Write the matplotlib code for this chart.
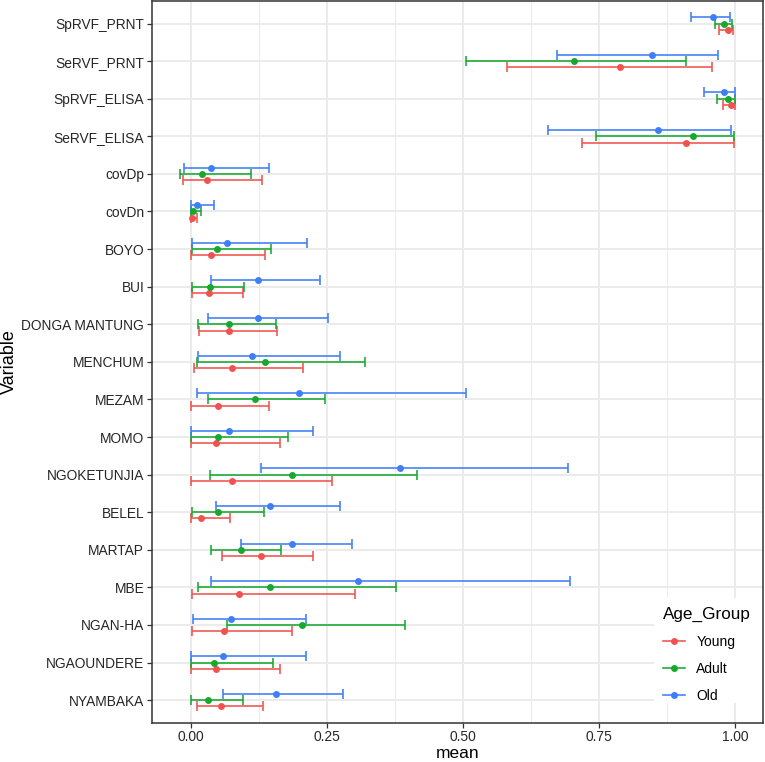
import matplotlib
matplotlib.use("Agg")
import matplotlib.pyplot as plt
from matplotlib.lines import Line2D
from matplotlib.patches import Rectangle
import numpy as np

plt.rcParams['font.family'] = ['Liberation Sans', 'DejaVu Sans']

variables = ["SpRVF_PRNT", "SeRVF_PRNT", "SpRVF_ELISA", "SeRVF_ELISA", "covDp", "covDn",
             "BOYO", "BUI", "DONGA MANTUNG", "MENCHUM", "MEZAM", "MOMO", "NGOKETUNJIA",
             "BELEL", "MARTAP", "MBE", "NGAN-HA", "NGAOUNDERE", "NYAMBAKA"]

groups = ["Young", "Adult", "Old"]
colors = {"Young": "#F0524F", "Adult": "#18A82E", "Old": "#3F7EF4"}

young_mean = [0.986, 0.788, 0.993, 0.909, 0.030, 0.003, 0.038, 0.033, 0.071, 0.075, 0.051, 0.046, 0.075,
              0.019, 0.129, 0.088, 0.061, 0.046, 0.056]
young_lo = [0.971, 0.580, 0.978, 0.718, -0.014, 0.000, 0.001, 0.002, 0.016, 0.007, 0.001, 0.001, 0.001,
            0.000, 0.058, 0.002, 0.002, 0.001, 0.011]
young_hi = [0.996, 0.957, 1.000, 0.998, 0.131, 0.012, 0.136, 0.097, 0.158, 0.206, 0.144, 0.164, 0.260,
            0.073, 0.225, 0.302, 0.187, 0.164, 0.133]

adult_mean = [0.980, 0.704, 0.987, 0.922, 0.020, 0.005, 0.048, 0.036, 0.071, 0.137, 0.119, 0.051, 0.187,
              0.051, 0.093, 0.145, 0.204, 0.042, 0.032]
adult_lo = [0.962, 0.506, 0.966, 0.745, -0.019, 0.000, 0.002, 0.002, 0.013, 0.011, 0.031, 0.001, 0.036,
            0.003, 0.037, 0.014, 0.066, 0.001, 0.001]
adult_hi = [0.994, 0.910, 0.999, 0.998, 0.111, 0.019, 0.148, 0.098, 0.156, 0.320, 0.247, 0.178, 0.416,
            0.135, 0.166, 0.377, 0.393, 0.152, 0.097]

old_mean = [0.959, 0.847, 0.980, 0.858, 0.038, 0.011, 0.067, 0.124, 0.123, 0.112, 0.199, 0.070, 0.385,
            0.145, 0.186, 0.308, 0.074, 0.060, 0.157]
old_lo = [0.919, 0.672, 0.943, 0.657, -0.012, 0.000, 0.002, 0.038, 0.031, 0.013, 0.011, 0.001, 0.130,
          0.046, 0.093, 0.038, 0.004, 0.001, 0.060]
old_hi = [0.990, 0.968, 0.999, 0.993, 0.143, 0.042, 0.213, 0.238, 0.253, 0.274, 0.506, 0.225, 0.693,
          0.274, 0.296, 0.696, 0.212, 0.212, 0.280]

data = {
    "Young": (young_mean, young_lo, young_hi),
    "Adult": (adult_mean, adult_lo, adult_hi),
    "Old": (old_mean, old_lo, old_hi),
}
offsets = {"Young": -1/6, "Adult": 0.0, "Old": 1/6}

W, H = 765, 762
PX0, PX1, PY0, PY1 = 152, 763, 1, 722.7
fig = plt.figure(figsize=(W/100, H/100), dpi=100)
ax = fig.add_axes([PX0/W, 1 - PY1/H, (PX1 - PX0)/W, (PY1 - PY0)/H])

n = len(variables)
ypos = np.arange(n)[::-1].astype(float)

for g in groups:
    m, lo, hi = (np.array(a) for a in data[g])
    y = ypos + offsets[g]
    ax.errorbar(m, y, xerr=[m - lo, hi - m], fmt='none', ecolor=colors[g],
                elinewidth=1.15, capsize=3.5, capthick=1.15, zorder=3)
    ax.plot(m, y, linestyle='none', marker='o', color=colors[g], markersize=5.0,
            markeredgewidth=0, zorder=4)

ax.set_xlim(-0.071, 1.051)
ax.set_ylim(-0.6, n - 1 + 0.6)
ax.set_yticks(ypos)
ax.set_yticklabels(variables)
ax.set_xticks([0, 0.25, 0.5, 0.75, 1.0])
ax.set_xticklabels(["0.00", "0.25", "0.50", "0.75", "1.00"])
ax.set_xticks([0.125, 0.375, 0.625, 0.875], minor=True)

ax.grid(True, which='major', color='#EBEBEB', linewidth=1.4, zorder=0)
ax.grid(True, which='minor', axis='x', color='#EBEBEB', linewidth=0.7, zorder=0)
ax.set_axisbelow(True)
for s in ax.spines.values():
    s.set_color('#333333')
    s.set_linewidth(1.1)
    s.set_zorder(7)
ax.tick_params(axis='both', which='major', color='#333333', length=3.6, width=0.9,
               labelsize=9.9, labelcolor='#262626', pad=2)
ax.tick_params(axis='x', which='major', pad=2)
ax.tick_params(axis='x', which='minor', length=0)

fig.text(457.5/W, 1 - 758.5/H, "mean", ha='center', va='baseline', fontsize=12.5)
fig.text(9/W, 1 - 362/H, "Variable", ha='center', va='center', rotation=90, fontsize=13)

# white legend background box (inside panel, bottom right)
lx0, lx1, ly0, ly1 = 654, 763, 598, 703
bg = Rectangle(((lx0 - PX0)/(PX1 - PX0), (PY1 - ly1)/(PY1 - PY0)),
               (lx1 - lx0)/(PX1 - PX0), (ly1 - ly0)/(PY1 - PY0),
               transform=ax.transAxes, facecolor='white', edgecolor='none', zorder=5)
ax.add_patch(bg)

handles = [Line2D([0], [0], color=colors[g], marker='o', markersize=5.0, markeredgewidth=0,
                  linewidth=1.15) for g in groups]
leg = ax.legend(handles, groups, title="Age_Group", loc='lower right',
                bbox_to_anchor=((755 - PX0)/(PX1 - PX0), (PY1 - 707)/(PY1 - PY0)),
                borderaxespad=0, frameon=False,
                fontsize=10, title_fontsize=12.3, handlelength=1.6, handletextpad=0.8,
                labelspacing=0.92, borderpad=0.3)
leg._legend_box.align = "left"
leg.set_zorder(6)

fig.savefig("out.png", dpi=100)
